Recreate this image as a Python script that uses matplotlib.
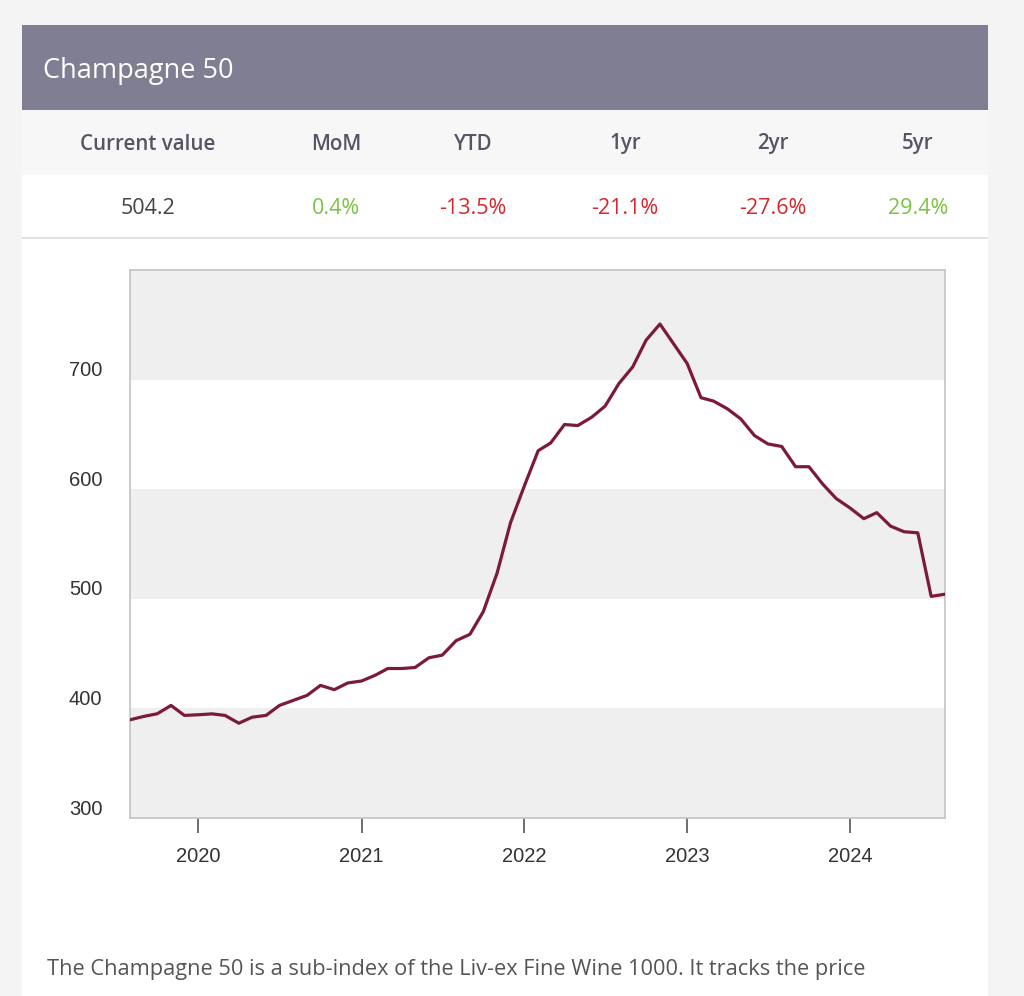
import matplotlib.pyplot as plt
from matplotlib.patches import Rectangle
from matplotlib.transforms import ScaledTranslation
import pandas as pd

# Data (monthly index, Aug 2019 - Aug 2024)
start_month = '2019-08-01'
index_values = [
    389.6, 392.7, 395.1, 402.7, 393.6, 394.2, 395.0, 393.6, 386.5, 392.0,
    393.6, 402.7, 407.3, 411.9, 421.0, 417.1, 423.2, 425.0, 430.3, 436.4,
    436.4, 437.3, 446.2, 448.6, 461.8, 467.6, 488.3, 523.6, 569.4, 603.0,
    635.1, 642.2, 659.0, 658.1, 665.7, 675.8, 696.4, 711.6, 736.0, 750.7,
    733.0, 714.7, 683.5, 680.4, 673.4, 664.2, 648.9, 641.3, 639.0, 620.5,
    620.5, 604.6, 591.5, 582.9, 573.1, 578.6, 566.3, 561.2, 560.2, 502.2,
    504.2,
]
stat_labels = ['Current value', 'MoM', 'YTD', '1yr', '2yr', '5yr']
stat_values = ['504.2', '0.4%', '-13.5%', '-21.1%', '-27.6%', '29.4%']
y_ticks = [300, 400, 500, 600, 700]
year_ticks = ['2020', '2021', '2022', '2023', '2024']
title = 'Champagne 50'
blurb = 'The Champagne 50 is a sub-index of the Liv-ex Fine Wine 1000. It tracks the price'

W, H = 1024, 996
fig = plt.figure(figsize=(W / 100, H / 100), dpi=100)
fig.patch.set_facecolor('#f4f4f4')


def px_rect(x0, y0, x1, y1, color):
    # rectangle in pixel coords (origin top-left), kept behind the axes
    r = Rectangle((x0 / W, 1 - y1 / H), (x1 - x0) / W, (y1 - y0) / H,
                  transform=fig.transFigure, facecolor=color, edgecolor='none', zorder=-10)
    fig.patches.append(r)


def px_text(x, y, s, **kw):
    fig.text(x / W, 1 - y / H, s, **kw)


# card + header
px_rect(22, 25, 988, 996, 'white')
px_rect(22, 25, 988, 110, '#807e93')
px_rect(22, 110, 988, 175, '#f7f7f7')
px_rect(22, 237, 988, 239, '#e2e2e2')

px_text(43, 71, title, fontsize=19.5, color='white', family='Open Sans', va='center')

col_x = [148, 336, 473, 625, 773, 918]
val_colors = ['#444444', '#7cc243', '#d9262b', '#d9262b', '#d9262b', '#7cc243']
for x, lab, val, c in zip(col_x, stat_labels, stat_values, val_colors):
    px_text(x, 144, lab, fontsize=14.8, color='#555566', family='Open Sans',
            weight='semibold', ha='center', va='center')
    px_text(x, 209, val, fontsize=15.5, color=c, family='Open Sans',
            ha='center', va='center')

px_text(47, 969, blurb, fontsize=15.7, color='#555555', family='Open Sans', va='center')

# chart
ax = fig.add_axes([130 / W, 1 - 818 / H, 815 / W, 548 / H])
dates = pd.date_range(start_month, periods=len(index_values), freq='MS')
ax.set_ylim(300, 800)
ax.set_xlim(dates[0], dates[-1])
ax.set_facecolor('white')

for lo in [300, 500, 700]:
    ax.axhspan(lo, lo + 100, color='#efefef', zorder=0, lw=0)
ax.plot(dates, index_values, color='#7b1a3b', lw=2.3, zorder=3)

for s in ax.spines.values():
    s.set_color('#c4c4c4')
    s.set_linewidth(1.2)

ax.set_yticks(y_ticks)
ax.tick_params(axis='y', length=0, pad=20, labelsize=14.5, labelcolor='#333333')
tick_dates = pd.to_datetime([y + '-01-01' for y in year_ticks])
ax.set_xticks(tick_dates)
ax.set_xticklabels(year_ticks)
ax.tick_params(axis='x', length=11, width=1.2, color='#555555', pad=10,
               labelsize=14.5, labelcolor='#333333')
for lab in ax.get_yticklabels() + ax.get_xticklabels():
    lab.set_family('Liberation Sans')
for lab in ax.get_yticklabels():
    lab.set_transform(lab.get_transform() + ScaledTranslation(0, 11 / 100, fig.dpi_scale_trans))

fig.savefig('out.png', dpi=100, facecolor=fig.get_facecolor())
